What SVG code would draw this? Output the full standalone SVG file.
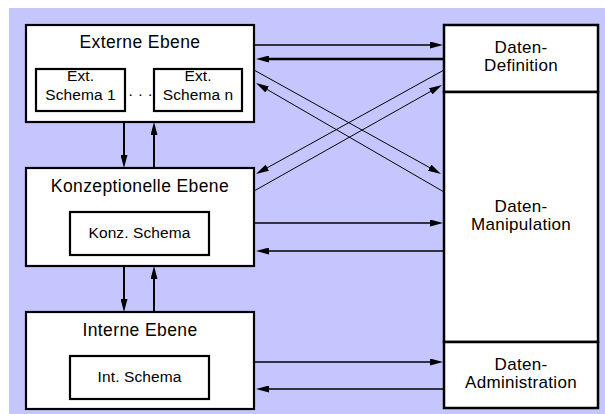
<svg xmlns="http://www.w3.org/2000/svg" width="605" height="414" viewBox="0 0 605 414">
<style>
.bx{fill:#fff;stroke:#000;stroke-width:2.2}
.rc{fill:#fff;stroke:#000;stroke-width:2.5}
.t{font-family:"Liberation Sans",Arial,sans-serif;font-size:17.5px;letter-spacing:0.4px;text-anchor:middle;fill:#000}
.r{font-family:"Liberation Sans",Arial,sans-serif;font-size:17px;letter-spacing:0.3px;text-anchor:middle;fill:#000}
.s{font-family:"Liberation Sans",Arial,sans-serif;font-size:15.5px;letter-spacing:0.1px;text-anchor:middle;fill:#000}
.h{fill:none;stroke:#000;stroke-width:1.5}
.hk{fill:none;stroke:#000;stroke-width:2.5}
.v{fill:none;stroke:#000;stroke-width:2}
.d{fill:none;stroke:#000;stroke-width:1}
</style>
<defs>
<marker id="ah" markerUnits="userSpaceOnUse" markerWidth="13" markerHeight="7" viewBox="0 0 13 7" refX="3" refY="3.5" orient="auto">
<path d="M0,0 L13,3.5 L0,7 z" fill="#000"/>
</marker>
</defs>
<rect x="0" y="0" width="605" height="414" fill="#fff"/>
<rect x="9" y="8" width="596" height="406" fill="#c6c6ff"/>

<g id="extern">
<rect class="bx" x="26" y="25" width="228" height="97"/>
<text class="t" x="140" y="48">Externe Ebene</text>
</g>
<g id="ext-schema-1">
<rect class="bx" x="36" y="69" width="89" height="42"/>
<text class="s" x="80.5" y="81">Ext.</text>
<text class="s" x="80.5" y="100">Schema 1</text>
</g>
<text class="s" x="128.5" y="96" style="text-anchor:start;letter-spacing:5.5px">...</text>
<g id="ext-schema-n">
<rect class="bx" x="154" y="69" width="88" height="42"/>
<text class="s" x="198" y="81">Ext.</text>
<text class="s" x="198" y="100">Schema n</text>
</g>

<g id="konzeptionell">
<rect class="bx" x="26" y="168" width="228" height="98"/>
<text class="t" x="140" y="192">Konzeptionelle Ebene</text>
</g>
<g id="konz-schema">
<rect class="bx" x="70" y="212" width="139" height="43"/>
<text class="s" x="139.5" y="238">Konz. Schema</text>
</g>

<g id="intern">
<rect class="bx" x="26" y="312" width="228" height="97"/>
<text class="t" x="140" y="336">Interne Ebene</text>
</g>
<g id="int-schema">
<rect class="bx" x="70" y="356" width="139" height="43"/>
<text class="s" x="139.5" y="382">Int. Schema</text>
</g>

<g id="daten-definition">
<rect class="rc" x="444" y="25" width="154" height="67"/>
<text class="r" x="521" y="53">Daten-</text>
<text class="r" x="521" y="71">Definition</text>
</g>
<g id="daten-manipulation">
<rect class="rc" x="444" y="92" width="154" height="250"/>
<text class="r" x="521" y="212">Daten-</text>
<text class="r" x="521" y="230">Manipulation</text>
</g>
<g id="daten-administration">
<rect class="bx" x="444" y="342" width="154" height="66" style="stroke-width:2.5"/>
<text class="r" x="521" y="370">Daten-</text>
<text class="r" x="521" y="388">Administration</text>
</g>

<g id="connectors">
<path class="h" d="M254,45 H433" marker-end="url(#ah)"/>
<path class="hk" d="M444,59 H266" marker-end="url(#ah)"/>
<path class="h" d="M254,223 H433" marker-end="url(#ah)"/>
<path class="h" d="M444,251 H266" marker-end="url(#ah)"/>
<path class="h" d="M254,362 H433" marker-end="url(#ah)"/>
<path class="h" d="M444,389 H266" marker-end="url(#ah)"/>
<path class="v" d="M124,122 V158" marker-end="url(#ah)"/>
<path class="v" d="M154,168 V132" marker-end="url(#ah)"/>
<path class="v" d="M124,266 V302" marker-end="url(#ah)"/>
<path class="v" d="M154,312 V276" marker-end="url(#ah)"/>
<path class="d" d="M254,70 L432.3,169.1" marker-end="url(#ah)"/>
<path class="d" d="M444,192 L264.6,88" marker-end="url(#ah)"/>
<path class="d" d="M444,70 L264.7,169.2" marker-end="url(#ah)"/>
<path class="d" d="M254,191 L433.3,89.9" marker-end="url(#ah)"/>
</g>
</svg>
